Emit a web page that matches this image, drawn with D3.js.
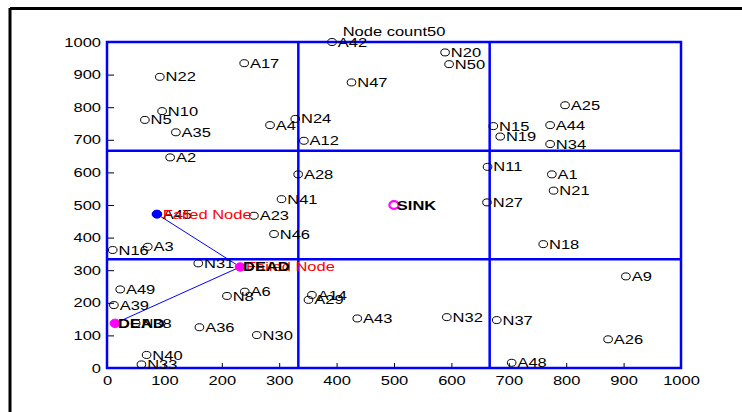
<!DOCTYPE html>
<html>
<head>
<meta charset="utf-8">
<script src="https://cdn.jsdelivr.net/npm/d3@7"></script>
<style>
  html, body { margin: 0; padding: 0; background: #fff; }
  svg { display: block; }
  text { font-family: "Liberation Sans", Arial, sans-serif; }
</style>
</head>
<body>
<svg id="chart" width="742" height="412"></svg>
<script>
// ---- data ----
const nodeNames = ["A1","A2","A3","A4","N5","A6","N8","A9","N10","N11","A12","A14","N15","N16","A17","N18","N19","N20",
  "N21","N22","A23","N24","A25","A26","N27","A28","A29","N30","N31","N32","N33","N34","A35","A36","N37","N38","A39",
  "N40","N41","A42","A43","A44","A45","N46","N47","A48","A49","N50"];
const nodeX = [775,110,71,284,66,240,209,904,96,663,343,357,673,10,239,760,685,589,
  778,92,256,328,798,873,662,333,351,261,159,592,60,772,120,161,679,50,12,
  69,304,392,436,772,87,291,426,705,23,596];
const nodeY = [594,646,372,745,761,234,221,281,788,617,697,224,742,362,935,380,710,968,
  544,893,467,764,806,88,508,594,209,101,321,156,11,687,723,125,147,137,193,
  40,518,1000,152,745,472,411,876,16,241,932];

const sinkPos = [500, 500];
const failedNode = [87, 472];            // A45
const deadNodes = [[232, 310], [14, 137]];
const routeX = [87, 232, 14];
const routeY = [472, 310, 137];

const xTicks = [0,100,200,300,400,500,600,700,800,900,1000];
const yTicks = [0,100,200,300,400,500,600,700,800,900,1000];
const gridCuts = [1000/3, 2000/3];
const nodeCount = 50;

// ---- layout ----
const SX = 1.27;        // horizontal text stretch
const FS = 13;
const svg = d3.select("#chart");
const x = d3.scaleLinear().domain([0, 1000]).range([107, 681]);
const y = d3.scaleLinear().domain([0, 1000]).range([368, 42]);

function label(g, px, py, str, opts = {}) {
  return g.append("text")
    .attr("transform", `translate(${px},${py}) scale(${SX},1)`)
    .attr("dy", opts.dy || "0.35em")
    .attr("text-anchor", opts.anchor || "start")
    .attr("font-size", opts.size || FS)
    .attr("font-weight", opts.weight || "normal")
    .attr("fill", opts.fill || "#000")
    .text(str);
}

// figure border
svg.append("line").attr("x1", 10).attr("y1", 8.5).attr("x2", 742).attr("y2", 8.5)
  .attr("stroke", "#000").attr("stroke-width", 3);
svg.append("line").attr("x1", 10).attr("y1", 8).attr("x2", 10).attr("y2", 412)
  .attr("stroke", "#000").attr("stroke-width", 3);

// axes (inward ticks)
const gx = svg.append("g").attr("transform", `translate(0,${y(0)})`)
  .call(d3.axisBottom(x).tickValues(xTicks).tickSize(-5).tickPadding(8).tickFormat(d3.format("d")));
const gy = svg.append("g").attr("transform", `translate(${x(0)},0)`)
  .call(d3.axisLeft(y).tickValues(yTicks).tickSize(-7).tickPadding(6).tickFormat(d3.format("d")));
[gx, gy].forEach(g => {
  g.select(".domain").remove();
  g.selectAll(".tick line").attr("stroke", "#000");
  g.selectAll(".tick text").each(function() {
    const t = d3.select(this);
    const tx = +t.attr("x") || 0, ty = +t.attr("y") || 0;
    t.attr("x", 0).attr("y", 0)
     .attr("transform", `translate(${tx},${ty}) scale(${SX},1)`)
     .attr("font-size", FS).attr("font-family", "Liberation Sans, Arial, sans-serif")
     .attr("fill", "#000");
  });
});

// region grid and frame
const blue = "#0000ff";
const frame = svg.append("g").attr("stroke", blue).attr("stroke-width", 2.5).attr("fill", "none");
frame.append("rect").attr("x", x(0)).attr("y", y(1000)).attr("width", x(1000) - x(0)).attr("height", y(0) - y(1000));
gridCuts.forEach(c => {
  frame.append("line").attr("x1", x(c)).attr("x2", x(c)).attr("y1", y(0)).attr("y2", y(1000));
  frame.append("line").attr("x1", x(0)).attr("x2", x(1000)).attr("y1", y(c)).attr("y2", y(c));
});

// title
label(svg, (x(0) + x(1000)) / 2, 31.5, "Node count" + nodeCount, { anchor: "middle", dy: 0 });

// route from failed node through dead nodes
svg.append("path")
  .attr("d", d3.line()(routeX.map((v, i) => [x(v), y(routeY[i])])))
  .attr("fill", "none").attr("stroke", blue).attr("stroke-width", 1);

// sensor nodes
const nodes = svg.append("g");
nodeNames.forEach((n, i) => {
  nodes.append("ellipse").attr("cx", x(nodeX[i])).attr("cy", y(nodeY[i]))
    .attr("rx", 4.3).attr("ry", 3.5).attr("fill", "none").attr("stroke", "#000").attr("stroke-width", 1);
});
nodeNames.forEach((n, i) => label(nodes, x(nodeX[i] + 10), y(nodeY[i]), n));

// failed node
svg.append("ellipse").attr("cx", x(failedNode[0])).attr("cy", y(failedNode[1]))
  .attr("rx", 4.8).attr("ry", 4).attr("fill", blue).attr("stroke", blue);
label(svg, x(failedNode[0] + 10), y(failedNode[1]), "Failed Node", { fill: "#ff0000" });

// dead nodes
deadNodes.forEach((d, i) => {
  svg.append("ellipse").attr("cx", x(d[0])).attr("cy", y(d[1]))
    .attr("rx", 5).attr("ry", 4.2).attr("fill", "#ff00ff").attr("stroke", "#ff00ff");
  if (i === 0) label(svg, x(d[0] + 10), y(d[1]), "Failed Node", { fill: "#ff0000" });
  label(svg, x(d[0] + 5), y(d[1]), "DEAD", { weight: "bold" });
});

// sink
svg.append("ellipse").attr("cx", x(sinkPos[0])).attr("cy", y(sinkPos[1]))
  .attr("rx", 4.6).attr("ry", 3.8).attr("fill", "none").attr("stroke", "#ff00ff").attr("stroke-width", 2.2);
label(svg, x(sinkPos[0] + 5), y(sinkPos[1]), "SINK", { weight: "bold" });
</script>
</body>
</html>
